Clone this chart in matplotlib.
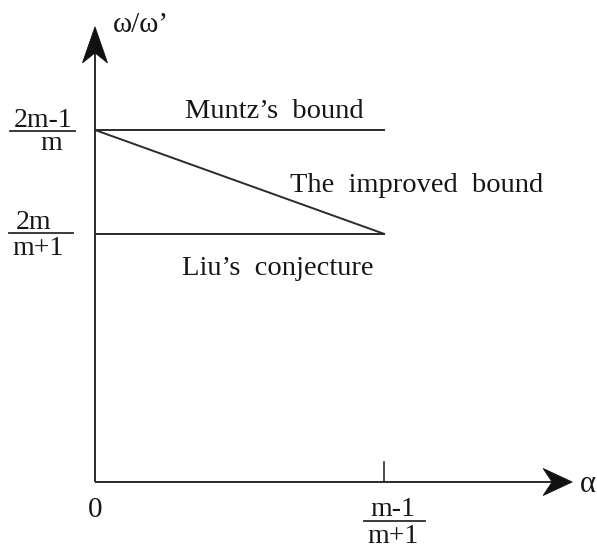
import matplotlib
matplotlib.use('Agg')
import matplotlib.pyplot as plt
from matplotlib.patches import Polygon
from matplotlib.transforms import Affine2D

plt.rcParams['font.family'] = ['Liberation Serif', 'DejaVu Serif']

INK = '#161616'
LINE = '#2b2b2b'

# schematic levels (alpha axis scaled so that (m-1)/(m+1) == 1)
alpha_end = 1.0
muntz_level = 1.0
liu_level = 0.705

muntz_x = [0.0, alpha_end]
muntz_y = [muntz_level, muntz_level]
liu_x = [0.0, alpha_end]
liu_y = [liu_level, liu_level]
improved_x = [0.0, alpha_end]
improved_y = [muntz_level, liu_level]

W, H, DPI = 597, 550, 100
fig = plt.figure(figsize=(W / DPI, H / DPI), dpi=DPI)
ax = fig.add_axes([0, 0, 1, 1])
ax.set_xlim(-0.3287, 1.737)
ax.set_ylim(-0.1932, 1.3693)
ax.axis('off')

# labels are laid out in pixels, measured from the top-left corner
pix = Affine2D().scale(1, -1).translate(0, H)


def label(x, y, s, ha='left', fs=20):
    ax.text(x, y, s, ha=ha, va='baseline', fontsize=fs, color=INK,
            transform=pix)


def stealth(tip, direction, length, width, notch):
    """Filled arrowhead with a concave base, sized in pixels."""
    tx, ty = ax.transData.transform(tip)
    dx, dy = direction
    nx, ny = -dy, dx
    pts = [
        (tx, ty),
        (tx - dx * length + nx * width / 2, ty - dy * length + ny * width / 2),
        (tx - dx * (length - notch), ty - dy * (length - notch)),
        (tx - dx * length - nx * width / 2, ty - dy * length - ny * width / 2),
    ]
    ax.add_patch(Polygon(pts, closed=True, transform=None,
                         facecolor='#111111', edgecolor='#111111', lw=0.6,
                         zorder=4))


# axes with arrows
y_tip = 1.293
x_tip = 1.651
ax.plot([0, 0], [0, y_tip - 0.06], color=LINE, lw=1.4, solid_capstyle='butt')
ax.plot([0, x_tip - 0.06], [0, 0], color=LINE, lw=1.4, solid_capstyle='butt')
stealth((0, y_tip), (0, 1), length=36, width=25, notch=10)
stealth((x_tip, 0), (1, 0), length=29, width=27, notch=9)

# tick at alpha = (m-1)/(m+1)
ax.plot([alpha_end, alpha_end], [0, 0.057], color=LINE, lw=1.2)

# the three bounds
ax.plot(muntz_x, muntz_y, color=LINE, lw=1.4)
ax.plot(liu_x, liu_y, color=LINE, lw=1.4)
ax.plot(improved_x, improved_y, color=LINE, lw=1.4)

# curve labels
label(274, 118, 'Muntz’s  bound', ha='center', fs=20.5)
label(417, 192, 'The  improved  bound', ha='center', fs=20.5)
label(278, 275, 'Liu’s  conjecture', ha='center', fs=20.5)

# axis names and origin
label(141, 32, 'ω/ω’', ha='center', fs=21)
label(580, 492, 'α', fs=22)
label(95, 517, '0', ha='center', fs=21)


def fraction(x0, x1, ybar, num, den, num_x, den_x, num_base, den_base,
             fs=20):
    ax.plot([x0, x1], [ybar, ybar], color=LINE, lw=1.3, transform=pix)
    label(num_x, num_base, num, ha='center', fs=fs)
    label(den_x, den_base, den, ha='center', fs=fs)


fraction(10, 75, 131, '2m-1', 'm', 43, 51, 127, 150)
fraction(9, 73, 233, '2m', 'm+1', 34, 38, 229, 255)
fraction(364, 425, 521, 'm-1', 'm+1', 393, 393, 516, 543)

fig.savefig('out.png', dpi=DPI, facecolor='white')
